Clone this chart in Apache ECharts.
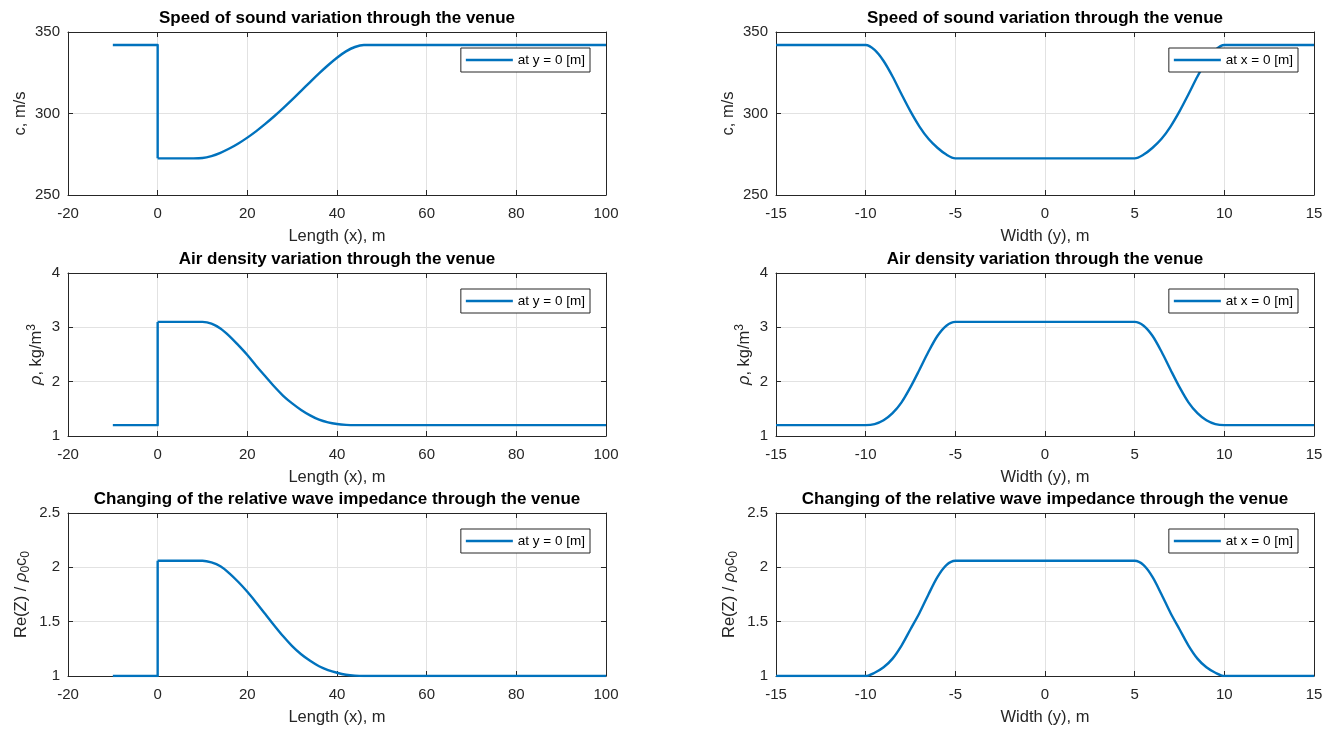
<!DOCTYPE html>
<html>
<head>
<meta charset="utf-8">
<script src="https://cdn.jsdelivr.net/npm/echarts@6/dist/echarts.min.js"></script>
<style>
  html, body { margin: 0; padding: 0; background: #ffffff; }
  #chart { width: 1335px; height: 729px; }
</style>
</head>
<body>
<div id="chart"></div>
<script>
// Profiles along the venue length (x), sampled at y = 0
const lengthX = [-10, 0, 0, 4, 8, 10, 12, 14, 16, 18, 20, 22, 24, 26, 28, 30, 32, 34, 36, 38, 40, 42, 44, 46, 50, 60, 80, 100];
const speedAlongLength = [342, 342, 272.5, 272.5, 272.5, 272.7, 273.9, 275.9, 278.5, 281.6, 285.2, 289.2, 293.6, 298.3, 303.3, 308.5, 313.9, 319.3, 324.6, 329.6, 334.2, 338.1, 340.8, 342, 342, 342, 342, 342];
const densityAlongLength = [1.2, 1.2, 3.1, 3.1, 3.1, 3.1, 3.07, 2.98, 2.84, 2.67, 2.49, 2.29, 2.1, 1.91, 1.74, 1.6, 1.48, 1.38, 1.3, 1.25, 1.22, 1.205, 1.2, 1.2, 1.2, 1.2, 1.2, 1.2];
const impedanceAlongLength = [1, 1, 2.06, 2.06, 2.06, 2.06, 2.045, 2.01, 1.945, 1.865, 1.775, 1.675, 1.57, 1.465, 1.365, 1.275, 1.2, 1.14, 1.09, 1.055, 1.03, 1.012, 1.003, 1, 1, 1, 1, 1];

// Profiles across the venue width (y), sampled at x = 0
const widthY = [-15, -10, -9.5, -9, -8.5, -8, -7.5, -7, -6.5, -6, -5.5, -5, 0, 5, 5.5, 6, 6.5, 7, 7.5, 8, 8.5, 9, 9.5, 10, 15];
const speedAcrossWidth = [342, 342, 339, 332.2, 322.7, 311.8, 301.3, 292, 284.5, 279, 274.8, 272.5, 272.5, 272.5, 274.8, 279, 284.5, 292, 301.3, 311.8, 322.7, 332.2, 339, 342, 342];
const densityAcrossWidth = [1.2, 1.2, 1.22, 1.29, 1.42, 1.62, 1.9, 2.22, 2.55, 2.84, 3.03, 3.1, 3.1, 3.1, 3.03, 2.84, 2.55, 2.22, 1.9, 1.62, 1.42, 1.29, 1.22, 1.2, 1.2];
const impedanceAcrossWidth = [1, 1, 1.03, 1.08, 1.16, 1.28, 1.43, 1.58, 1.75, 1.91, 2.02, 2.06, 2.06, 2.06, 2.02, 1.91, 1.75, 1.58, 1.43, 1.28, 1.16, 1.08, 1.03, 1, 1];

// Index in lengthX where the jump at x = 0 ends and the smooth part begins
const lengthJumpEnd = 2;

// Axis ranges and tick steps: [min, max, interval]
const lengthAxisRange = [-20, 100, 20];
const widthAxisRange = [-15, 15, 5];
const speedAxisRange = [250, 350, 50];
const densityAxisRange = [1, 4, 1];
const impedanceAxisRange = [1, 2.5, 0.5];

const titles = [
  'Speed of sound variation through the venue',
  'Air density variation through the venue',
  'Changing of the relative wave impedance through the venue'
];
const xAxisNames = ['Length (x), m', 'Width (y), m'];
const seriesNames = ['at y = 0 [m]', 'at x = 0 [m]'];

const FONT = '"Liberation Sans", Arial, Helvetica, sans-serif';
const AXIS_COLOR = '#262626';
const LINE_COLOR = '#0072BD';

const colLeft = [68, 776];
const plotW = 538;
const rowTop = [32, 273, 513];
const plotH = 163;

const richName = {
  i: { fontStyle: 'italic', fontSize: 16.5, fontFamily: FONT, color: AXIS_COLOR, lineHeight: 22 },
  sup: { fontSize: 12, fontFamily: FONT, color: AXIS_COLOR, verticalAlign: 'top', lineHeight: 12 },
  sub: { fontSize: 12, fontFamily: FONT, color: AXIS_COLOR, verticalAlign: 'bottom', lineHeight: 12 }
};

const rows = [
  { yName: 'c, m/s', yRange: speedAxisRange, yGap: 35,
    data: [[lengthX, speedAlongLength], [widthY, speedAcrossWidth]] },
  { yName: '{i|ρ}, kg/m{sup|3}', yRange: densityAxisRange, yGap: 17,
    data: [[lengthX, densityAlongLength], [widthY, densityAcrossWidth]] },
  { yName: 'Re(Z) / {i|ρ}{sub|0}c{sub|0}', yRange: impedanceAxisRange, yGap: 36,
    data: [[lengthX, impedanceAlongLength], [widthY, impedanceAcrossWidth]] }
];
const xRanges = [lengthAxisRange, widthAxisRange];

const grid = [], xAxis = [], yAxis = [], series = [], title = [], legend = [];

function lineSeries(name, axisIdx, points, smooth) {
  return {
    type: 'line', name,
    xAxisIndex: axisIdx, yAxisIndex: axisIdx,
    data: points,
    showSymbol: false, symbol: 'none',
    smooth,
    lineStyle: { color: LINE_COLOR, width: 2.4, join: 'round' },
    itemStyle: { color: LINE_COLOR },
    clip: true, z: 3
  };
}

rows.forEach((row, r) => {
  [0, 1].forEach(c => {
    const g = grid.length;
    grid.push({ left: colLeft[c], top: rowTop[r], width: plotW, height: plotH, containLabel: false });

    title.push({
      text: titles[r],
      left: colLeft[c] + plotW / 2,
      top: rowTop[r] - 22,
      textAlign: 'center',
      padding: 0,
      textStyle: { fontFamily: FONT, fontSize: 17, fontWeight: 'bold', color: '#000' }
    });

    const xr = xRanges[c];
    const yr = row.yRange;

    // main (bottom / left) axes
    xAxis.push({
      type: 'value', gridIndex: g, min: xr[0], max: xr[1], interval: xr[2], position: 'bottom',
      name: xAxisNames[c], nameLocation: 'middle', nameGap: 33,
      nameTextStyle: { fontFamily: FONT, fontSize: 16.5, color: AXIS_COLOR },
      axisLine: { show: true, onZero: false, lineStyle: { color: AXIS_COLOR, width: 1 } },
      axisTick: { show: true, inside: true, length: 5, lineStyle: { color: AXIS_COLOR } },
      axisLabel: { margin: 11, fontFamily: FONT, fontSize: 15, color: AXIS_COLOR },
      splitLine: { show: true, lineStyle: { color: '#e2e2e2', width: 1 } }
    });
    yAxis.push({
      type: 'value', gridIndex: g, min: yr[0], max: yr[1], interval: yr[2], position: 'left',
      name: row.yName, nameLocation: 'middle', nameGap: row.yGap,
      nameTextStyle: { fontFamily: FONT, fontSize: 16.5, color: AXIS_COLOR, lineHeight: 22, rich: richName },
      axisLine: { show: true, onZero: false, lineStyle: { color: AXIS_COLOR, width: 1 } },
      axisTick: { show: true, inside: true, length: 5, lineStyle: { color: AXIS_COLOR } },
      axisLabel: { margin: 8, fontFamily: FONT, fontSize: 15, color: AXIS_COLOR },
      splitLine: { show: true, lineStyle: { color: '#e2e2e2', width: 1 } }
    });
    // box (top / right) axes
    xAxis.push({
      type: 'value', gridIndex: g, min: xr[0], max: xr[1], interval: xr[2], position: 'top',
      axisLine: { show: true, onZero: false, lineStyle: { color: AXIS_COLOR, width: 1 } },
      axisTick: { show: true, inside: true, length: 5, lineStyle: { color: AXIS_COLOR } },
      axisLabel: { show: false }, splitLine: { show: false }
    });
    yAxis.push({
      type: 'value', gridIndex: g, min: yr[0], max: yr[1], interval: yr[2], position: 'right',
      axisLine: { show: true, onZero: false, lineStyle: { color: AXIS_COLOR, width: 1 } },
      axisTick: { show: true, inside: true, length: 5, lineStyle: { color: AXIS_COLOR } },
      axisLabel: { show: false }, splitLine: { show: false }
    });

    const [xs, vs] = row.data[c];
    const pts = xs.map((x, i) => [x, vs[i]]);
    if (c === 0) {
      // sharp jump at the entrance, then the smooth transition
      series.push(lineSeries(seriesNames[c], 2 * g, pts.slice(0, lengthJumpEnd + 1), false));
      series.push(lineSeries(seriesNames[c], 2 * g, pts.slice(lengthJumpEnd), 0.35));
    } else {
      series.push(lineSeries(seriesNames[c], 2 * g, pts, 0.3));
    }

    legend.push({
      data: [seriesNames[c]],
      right: 1335 - (colLeft[c] + plotW - 16),
      top: rowTop[r] + 16,
      icon: 'rect', itemWidth: 47, itemHeight: 2.5,
      padding: [5, 5, 5, 5],
      backgroundColor: '#ffffff', borderColor: AXIS_COLOR, borderWidth: 1, borderRadius: 0,
      selectedMode: false,
      textStyle: { fontFamily: FONT, fontSize: 13.5, color: '#000' }
    });
  });
});

const chart = echarts.init(document.getElementById('chart'), null, { renderer: 'canvas' });
chart.setOption({
  animation: false,
  backgroundColor: '#ffffff',
  title, grid, xAxis, yAxis, legend, series
});
</script>
</body>
</html>
